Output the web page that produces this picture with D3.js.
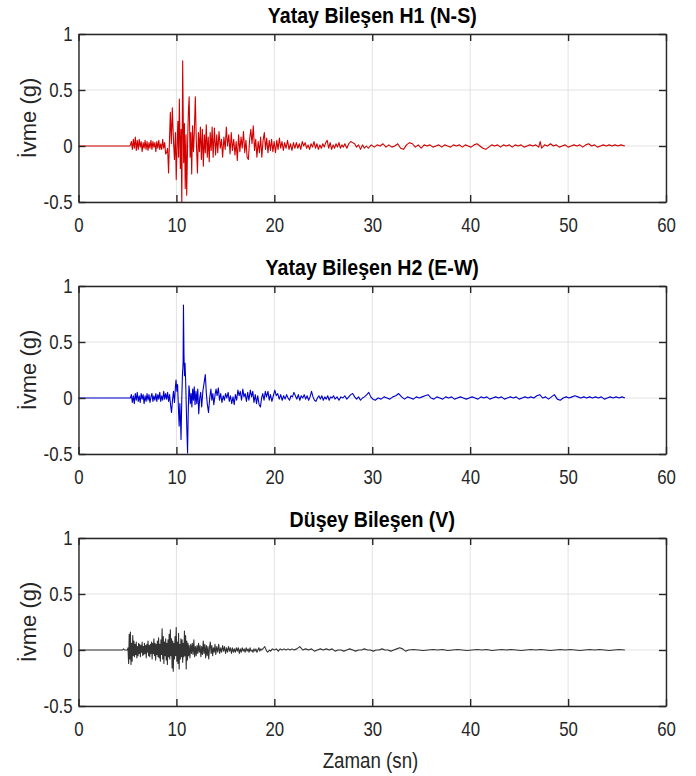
<!DOCTYPE html>
<html><head><meta charset="utf-8">
<script src="https://cdn.jsdelivr.net/npm/d3@7"></script>
<style>body{margin:0;background:#fff}</style>
</head><body><svg id="c" width="696" height="776"></svg>
<script>
const xTicks=[0,10,20,30,40,50,60];
const yTicks=[-0.5,0,0.5,1];
const titles=["Yatay Bileşen H1 (N-S)","Yatay Bileşen H2 (E-W)","Düşey Bileşen (V)"];
const yLabel="İvme (g)";
const xLabel="Zaman (sn)";
const colors=["#d20000","#0000cc","#333333"];

// [time (s), acceleration (g)]
const h1=[[0,0],[5.25,0],[5.3,0.01],[5.4,0.04],[5.5,-0.03],[5.6,0.06],[5.7,-0.02],[5.8,0.08],[5.9,-0.04],[6.0,0.05],[6.1,-0.03],[6.2,0.06],[6.3,-0.01],[6.4,0.04],[6.5,-0.05],[6.6,0.03],[6.7,-0.02],[6.8,0.05],[6.9,-0.03],[7.0,0.04],[7.1,-0.04],[7.2,0.03],[7.3,-0.02],[7.4,0.05],[7.5,-0.03],[7.6,0.04],[7.7,-0.01],[7.8,0.03],[7.9,-0.05],[8.0,0.04],[8.1,-0.02],[8.2,0.05],[8.3,-0.03],[8.4,0.02],[8.5,-0.03],[8.6,0.06],[8.7,-0.02],[8.8,0.03],[8.9,-0.07],
[9.0,-0.06],[9.1,-0.02],[9.2,-0.24],[9.3,0.08],[9.38,0.30],[9.48,0.02],[9.58,0.34],[9.7,0.05],[9.8,-0.12],[9.9,0.12],[9.98,-0.30],[10.08,0.05],[10.15,0.22],[10.22,-0.10],[10.3,0.42],[10.4,-0.20],[10.48,0.15],[10.55,-0.52],[10.64,0.76],[10.74,-0.15],[10.82,0.20],[10.9,-0.38],[10.98,0.10],[11.05,-0.44],[11.15,0.05],[11.22,0.30],[11.3,0.44],[11.4,-0.10],[11.48,0.12],[11.56,-0.25],[11.65,0.18],[11.74,-0.05],[11.82,0.10],[11.93,0.44],[12.03,0.05],[12.15,-0.24],[12.25,0.12],[12.35,-0.05],[12.45,0.17],[12.55,-0.12],[12.65,0.15],[12.75,-0.18],[12.85,0.10],[12.95,-0.06],[13.05,0.19],[13.15,-0.10],[13.25,0.08],[13.35,-0.14],[13.45,0.12],[13.55,-0.04],[13.65,0.17],
[13.75,-0.10],[13.88,0.16],[14.0,-0.08],[14.12,0.10],[14.22,-0.06],[14.35,0.13],[14.48,-0.02],[14.6,0.06],[14.72,-0.10],[14.85,0.08],[14.98,-0.03],[15.1,0.17],[15.22,0.0],[15.35,0.10],[15.48,-0.07],[15.6,0.12],[15.72,-0.04],[15.85,0.06],[15.98,-0.08],[16.1,0.04],[16.22,-0.13],[16.35,0.10],[16.48,-0.05],[16.6,0.08],[16.72,-0.02],[16.85,0.13],[16.98,-0.06],[17.1,0.05],[17.22,-0.10],[17.35,-0.12],[17.48,0.06],[17.6,0.15],[17.72,0.02],[17.85,0.18],[17.98,-0.04],[18.1,0.06],[18.22,-0.10],[18.35,0.04],[18.48,-0.06],[18.6,0.08],[18.72,-0.10],[18.85,0.05],[18.98,0.12],[19.1,-0.03],[19.22,0.07],[19.35,-0.06],[19.48,0.05],[19.6,-0.04],[19.72,0.06],[19.85,-0.05],[19.98,0.04],
[20.12,-0.06],[20.25,0.05],[20.38,-0.03],[20.52,0.07],[20.65,-0.02],[20.78,0.04],[20.92,-0.04],[21.05,0.03],[21.2,-0.02],[21.35,0.05],[21.5,-0.03],[21.65,0.02],[21.8,-0.04],[21.95,0.03],[22.1,-0.02],[22.25,0.03],[22.4,-0.02],[22.55,0.02],[22.7,-0.03],[22.85,0.04],[23.0,0.0],[23.15,0.03],[23.3,-0.02],[23.45,0.01],[23.6,-0.03],[23.75,0.02],[23.9,-0.01],[24.05,0.04],[24.2,-0.02],[24.35,0.02],[24.5,-0.03],[24.65,0.01],[24.8,-0.02],[24.95,0.02],[25.1,-0.01],[25.25,0.03],[25.4,0.05],[25.55,-0.02],[25.7,0.03],[25.85,-0.03],[26.0,0.01],[26.15,-0.02],[26.3,0.02],[26.45,-0.01],[26.6,0.03],[26.75,-0.02],[26.9,0.01],[27.05,-0.01],[27.2,0.02],[27.4,-0.02],[27.6,0.02],[27.8,0.04],[28.0,0.03],[28.2,0.02],[28.4,-0.01],[28.6,0.01],[28.8,-0.03],[29.0,0.01],[29.2,-0.02],[29.4,0.0],[29.6,-0.02],
[29.9,0.01],[30.2,-0.01],[30.5,0.01],[30.8,0.0],[31.1,0.02],[31.4,-0.01],[31.7,0.01],[32.0,-0.01],[32.3,0.0],[32.6,0.02],[32.9,-0.02],[33.2,-0.03],[33.5,0.01],[33.8,0.03],[34.1,0.02],[34.4,-0.01],[34.7,0.01],[35.0,-0.02],[35.3,0.01],[35.6,0.0],[35.9,0.01],[36.2,-0.01],[36.5,0.0],[36.8,0.01],[37.1,-0.01],[37.4,0.01],[37.7,0.0],[38.0,-0.01],[38.3,0.01],[38.6,0.0],[38.9,0.01],[39.2,-0.01],[39.5,0.01],[39.8,0.0],[40.1,-0.01],[40.4,0.01],[40.7,0.02],[41.0,0.0],[41.3,-0.02],[41.6,-0.03],[41.9,-0.01],[42.2,0.01],[42.5,0.0],[42.8,0.01],[43.1,-0.01],[43.4,0.01],[43.7,0.0],[44.0,0.01],[44.3,-0.01],[44.6,0.01],[44.9,0.0],[45.2,0.01],[45.5,-0.01],[45.8,0.0],[46.1,0.01],[46.4,0.0],[46.7,0.01],[47.0,-0.01],[47.15,0.04],[47.3,-0.02],[47.6,0.01],[47.9,0.0],[48.2,0.02],[48.5,0.0],[48.8,0.01],[49.1,-0.01],[49.4,0.0],[49.7,0.01],[50.0,-0.01],[50.3,0.0],[50.6,0.01],[50.9,0.0],[51.2,0.01],[51.5,-0.01],[51.8,0.01],[52.1,0.02],[52.4,0.0],[52.7,0.01],[53.0,-0.01],[53.3,0.0],[53.6,0.01],[53.9,0.0],[54.2,0.01],[54.5,0.0],[54.8,0.01],[55.1,0.0],[55.4,0.01],[55.8,0.0]];

const h2=[[0,0],[5.3,0],[5.4,0.03],[5.5,-0.04],[5.6,0.02],[5.7,-0.05],[5.8,0.04],[5.9,-0.02],[6.0,0.05],[6.1,-0.03],[6.2,0.02],[6.3,-0.04],[6.4,0.04],[6.5,-0.01],[6.6,0.03],[6.7,-0.05],[6.8,0.02],[6.9,-0.03],[7.0,0.04],[7.1,-0.02],[7.2,0.03],[7.3,-0.04],[7.4,0.01],[7.5,0.04],[7.6,-0.03],[7.7,0.02],[7.8,-0.02],[7.9,0.04],[8.0,-0.03],[8.1,0.03],[8.2,-0.01],[8.3,0.05],[8.4,-0.03],[8.5,0.02],[8.6,-0.02],[8.7,0.06],[8.8,-0.01],
[8.9,0.04],[9.0,-0.01],[9.1,0.05],[9.2,-0.03],[9.3,0.03],[9.4,-0.06],[9.5,-0.13],[9.6,-0.02],[9.7,0.06],[9.8,-0.04],[9.9,0.10],[9.96,0.16],[10.05,0.06],[10.12,0.12],[10.2,-0.08],[10.28,-0.25],[10.35,-0.05],[10.42,-0.20],[10.47,-0.37],[10.55,0.0],[10.62,0.22],[10.68,0.30],[10.72,0.83],[10.77,0.40],[10.82,0.20],[10.88,0.31],[10.94,0.16],[11.0,-0.05],[11.07,-0.30],[11.14,-0.49],[11.2,-0.15],[11.28,0.11],[11.35,0.05],[11.42,-0.05],[11.5,0.04],[11.58,-0.08],[11.66,0.08],[11.74,-0.02],[11.82,0.10],[11.9,-0.06],[12.0,0.06],[12.08,-0.05],[12.18,0.08],[12.28,-0.14],[12.38,0.0],[12.48,0.05],[12.58,-0.08],[12.7,0.06],[12.8,0.12],[12.95,0.21],[13.05,0.05],[13.15,-0.05],[13.28,-0.13],[13.4,0.0],[13.52,0.08],[13.62,-0.02],[13.72,0.04],[13.82,-0.06],[13.95,0.03],[14.05,0.08],[14.15,0.02],[14.28,0.09],[14.4,-0.02],[14.52,0.04],[14.65,-0.04],[14.78,0.02],[14.9,-0.02],[15.02,0.04],[15.15,0.0],[15.28,0.05],[15.4,-0.03],[15.52,0.02],[15.65,-0.05],[15.78,0.01],[15.9,-0.06],[16.02,0.03],[16.15,-0.02],[16.28,0.07],[16.4,0.02],[16.52,0.06],[16.65,-0.02],[16.78,0.08],[16.9,0.01],[17.02,0.04],[17.15,-0.03],[17.28,0.05],[17.4,-0.02],[17.55,0.07],[17.68,0.01],[17.8,0.06],[17.92,-0.04],[18.05,0.03],[18.18,-0.05],[18.3,0.02],[18.45,-0.06],[18.58,-0.08],[18.7,0.0],[18.82,0.04],[18.95,-0.02],[19.08,0.06],[19.2,0.01],[19.35,0.06],[19.48,-0.02],[19.6,0.03],[19.75,-0.03],[19.9,0.02],
[20.05,0.07],[20.2,0.02],[20.35,0.04],[20.5,-0.01],[20.65,0.03],[20.8,-0.02],[20.95,0.02],[21.1,-0.01],[21.25,0.03],[21.4,0.0],[21.55,-0.02],[21.7,0.02],[21.85,0.01],[22.0,0.05],[22.15,0.02],[22.3,-0.01],[22.45,0.03],[22.6,-0.02],[22.75,0.02],[22.9,0.0],[23.05,0.03],[23.2,-0.01],[23.35,0.02],[23.5,-0.02],[23.65,0.01],[23.8,0.06],[23.95,0.01],[24.1,-0.02],[24.25,-0.03],[24.4,0.0],[24.55,0.02],[24.7,-0.01],[24.85,0.02],[25.0,-0.02],[25.15,0.01],[25.3,-0.01],[25.45,0.02],[25.6,-0.02],[25.75,0.01],[25.9,0.0],[26.05,0.02],[26.2,-0.01],[26.4,0.01],[26.6,-0.02],[26.8,0.01],[27.0,0.0],[27.2,0.02],[27.4,-0.01],[27.6,0.01],[27.8,0.03],[28.0,0.04],[28.2,0.01],[28.4,-0.01],[28.6,0.01],[28.8,-0.02],[29.0,0.0],[29.2,0.01],[29.45,0.03],[29.65,0.05],[29.85,0.01],[30.05,-0.01],
[30.3,-0.02],[30.6,0.0],[30.9,-0.01],[31.2,0.01],[31.5,0.0],[31.8,-0.01],[32.1,0.01],[32.4,0.02],[32.7,0.04],[33.0,0.01],[33.3,-0.01],[33.6,0.01],[33.9,0.0],[34.2,-0.01],[34.5,0.01],[34.8,0.0],[35.1,0.01],[35.4,0.02],[35.7,0.03],[36.0,0.0],[36.3,-0.01],[36.6,0.01],[36.9,0.0],[37.2,-0.01],[37.5,0.01],[37.8,0.0],[38.1,0.01],[38.4,-0.01],[38.7,0.0],[39.0,0.01],[39.3,0.0],[39.6,-0.01],[39.9,0.0],[40.2,0.01],[40.5,0.0],[40.8,-0.01],[41.1,0.01],[41.4,0.0],[41.7,0.01],[42.0,-0.01],[42.3,0.0],[42.6,0.01],[42.9,0.0],[43.2,0.01],[43.5,-0.01],[43.8,0.0],[44.1,0.01],[44.4,0.0],[44.7,0.01],[45.0,-0.01],[45.3,0.0],[45.6,0.01],[45.9,0.0],[46.2,0.01],[46.5,0.0],[46.8,0.02],[47.1,0.03],[47.4,0.0],[47.7,0.01],[48.0,-0.01],[48.3,0.01],[48.6,0.03],[48.9,-0.01],[49.2,-0.02],[49.5,0.0],[49.8,0.01],[50.1,0.0],[50.4,0.01],[50.7,0.02],[51.0,0.01],[51.3,0.0],[51.6,0.01],[51.9,0.0],[52.2,0.01],[52.5,0.0],[52.8,0.01],[53.1,0.0],[53.4,0.01],[53.7,-0.01],[54.0,0.0],[54.3,0.01],[54.6,0.0],[54.9,0.01],[55.2,0.0],[55.5,0.01],[55.8,0.0]];

const v=[[0,0],[4.5,0],[4.6,0.01],[4.7,0],[5.0,0],[5.05,0.02],[5.12,-0.12],[5.18,0.14],[5.24,-0.08],[5.3,0.16],[5.36,-0.13],[5.42,0.06],[5.48,-0.10],[5.54,0.13],[5.6,-0.05],[5.66,0.08],[5.72,-0.06],[5.78,0.05],[5.84,-0.04],[5.9,0.07],[5.96,-0.07],[6.02,0.03],[6.08,-0.05],[6.14,0.06],[6.2,-0.03],[6.26,0.05],[6.32,-0.06],[6.38,0.04],[6.44,-0.02],[6.5,0.07],[6.56,-0.05],[6.62,0.03],[6.68,-0.04],[6.74,0.06],[6.8,-0.03],[6.86,0.04],[6.92,-0.07],[6.98,0.05],[7.04,-0.02],[7.1,0.08],[7.16,-0.05],[7.22,0.04],[7.28,-0.06],[7.34,0.05],[7.4,-0.03],[7.46,0.07],[7.52,-0.08],[7.58,0.06],[7.64,-0.03],[7.7,0.10],[7.76,-0.05],[7.82,0.06],[7.88,-0.09],[7.94,0.05],[8.0,-0.04],[8.06,0.08],[8.12,-0.06],[8.18,0.11],[8.24,-0.07],[8.3,0.05],[8.36,-0.10],[8.42,0.09],[8.48,-0.04],[8.54,0.19],[8.6,-0.08],[8.66,0.12],[8.72,-0.12],[8.78,0.07],[8.84,-0.05],[8.9,0.10],[8.96,-0.09],[9.02,0.06],[9.08,-0.13],[9.14,0.09],[9.2,-0.06],[9.26,0.14],[9.32,-0.08],[9.38,0.18],[9.44,-0.05],[9.5,0.10],[9.56,-0.16],[9.62,0.08],[9.68,-0.19],[9.74,0.06],[9.8,-0.08],[9.86,0.12],[9.92,-0.05],[9.98,0.20],[10.04,-0.10],[10.1,0.07],[10.16,-0.12],[10.22,0.15],[10.28,-0.17],[10.34,0.05],[10.4,-0.08],[10.46,0.10],[10.52,-0.06],[10.58,0.09],[10.64,-0.11],[10.7,0.06],[10.76,-0.06],[10.82,0.17],[10.88,-0.05],[10.94,0.13],[11.0,-0.17],[11.06,0.08],[11.12,-0.09],[11.18,0.06],[11.24,-0.05],[11.3,0.04],[11.38,-0.07],[11.46,0.05],[11.54,-0.03],[11.62,0.06],[11.7,-0.04],[11.78,0.09],[11.86,-0.06],[11.94,0.03],[12.02,-0.05],[12.1,0.04],[12.18,-0.03],[12.26,0.06],[12.34,-0.02],[12.42,0.04],[12.5,-0.06],[12.58,0.03],[12.66,-0.04],[12.74,0.08],[12.82,-0.03],[12.9,0.05],[12.98,-0.07],[13.06,0.04],[13.14,-0.05],[13.22,0.03],[13.3,-0.08],[13.38,0.02],[13.46,0.07],[13.54,-0.03],[13.62,0.04],[13.7,-0.05],[13.78,0.02],[13.86,-0.02],[13.94,0.05],[14.02,-0.04],[14.12,0.03],[14.22,-0.02],[14.32,0.05],[14.42,-0.03],[14.52,0.02],[14.62,-0.02],[14.72,0.04],[14.82,-0.01],[14.92,0.03],[15.02,-0.03],[15.12,0.02],[15.22,-0.02],[15.32,0.03],[15.42,-0.01],[15.52,0.02],[15.62,-0.03],[15.72,0.02],[15.82,-0.02],[15.92,0.01],[16.02,-0.02],[16.12,0.02],[16.22,-0.01],[16.32,0.02],[16.42,-0.03],[16.52,0.01],[16.62,-0.02],[16.72,0.02],[16.82,-0.01],[16.92,0.01],[17.02,-0.02],[17.12,0.02],[17.22,-0.01],[17.32,0.01],[17.42,-0.02],[17.52,0.02],[17.62,-0.01],[17.72,0.0],[17.82,-0.02],[17.92,0.01],[18.02,-0.01],[18.12,0.01],[18.22,-0.02],[18.32,0.0],[18.42,0.02],[18.52,-0.01],[18.62,0.01],[18.72,0.0],[18.82,0.01],[18.92,0.02],[19.02,0.03],[19.12,0.01],[19.22,-0.01],[19.32,-0.02],[19.42,-0.01],[19.52,0.0],[19.62,-0.01],[19.8,0.01],[20.0,0.0],[20.2,0.01],[20.4,-0.01],[20.6,0.01],[20.8,0.0],[21.0,0.01],[21.2,0.0],[21.4,0.01],[21.6,0.0],[21.8,0.01],[22.0,0.0],[22.3,0.01],[22.6,0.03],[22.9,0.0],[23.2,0.01],[23.5,0.0],[23.8,0.01],[24.1,-0.01],[24.4,0.0],[24.7,0.01],[25.0,0.0],[25.3,0.01],[25.6,0.0],[25.9,0.01],[26.2,-0.01],[26.5,0.0],[26.8,0.0],[27.1,-0.01],[27.4,0.0],[27.7,0.01],[28.0,0.0],[28.3,-0.01],[28.6,0.0],[28.9,0.0],[29.2,0.01],[29.5,0.0],[29.8,0.0],[30.1,-0.01],[30.4,0.0],[30.7,0.0],[31.0,0.01],[31.3,0.0],[31.6,0.0],[31.9,-0.01],[32.2,0.0],[32.5,0.01],[32.8,0.02],[33.1,0.01],[33.4,-0.01],[33.7,0.0],[34.2,0.005],[34.7,0.0],[35.2,-0.005],[35.7,0.0],[36.2,0.005],[36.7,0.0],[37.2,0.005],[37.7,-0.005],[38.2,0.0],[38.7,0.005],[39.2,0.0],[39.7,-0.005],[40.2,0.0],[40.7,0.005],[41.2,0.0],[41.7,0.005],[42.2,-0.005],[42.7,0.0],[43.2,0.005],[43.7,0.0],[44.2,0.005],[44.7,0.0],[45.2,-0.005],[45.7,0.0],[46.2,0.005],[46.7,0.0],[47.2,0.005],[47.7,0.0],[48.2,-0.005],[48.7,0.0],[49.2,0.005],[49.7,0.0],[50.2,0.005],[50.7,0.0],[51.2,-0.005],[51.7,0.0],[52.2,0.005],[52.7,0.0],[53.2,0.005],[53.7,0.0],[54.2,-0.005],[54.7,0.0],[55.2,0.005],[55.8,0.0]];

const series=[h1,h2,v];

const FONT="'Liberation Sans',Arial,sans-serif";
const svg=d3.select("#c");
const left=78.5,right=666,ph=168;
const tops=[34,286,538];
const x=d3.scaleLinear().domain([0,60]).range([left,right]);
const axisCol="#262626", gridCol="#e2e2e2", tick=7;
const fmtY=d=>String(d);   // plain hyphen-minus like the original

function squeeze(sel,k){
  sel.each(function(){
    const w=this.getComputedTextLength();
    d3.select(this).attr("textLength",w*k).attr("lengthAdjust","spacingAndGlyphs");
  });
}

series.forEach((data,i)=>{
  const top=tops[i];
  const y=d3.scaleLinear().domain([-0.5,1]).range([top+ph,top]);
  const g=svg.append("g");
  g.append("clipPath").attr("id","clip"+i).append("rect")
    .attr("x",left).attr("y",top).attr("width",right-left).attr("height",ph);
  g.append("g").selectAll("line").data(xTicks).join("line")
    .attr("x1",d=>x(d)).attr("x2",d=>x(d)).attr("y1",top).attr("y2",top+ph)
    .attr("stroke",gridCol).attr("stroke-width",1);
  g.append("g").selectAll("line").data(yTicks).join("line")
    .attr("x1",left).attr("x2",right).attr("y1",d=>y(d)).attr("y2",d=>y(d))
    .attr("stroke",gridCol).attr("stroke-width",1);
  g.append("path").datum(data)
    .attr("clip-path","url(#clip"+i+")")
    .attr("fill","none").attr("stroke",colors[i]).attr("stroke-width",1.1)
    .attr("stroke-linejoin","round")
    .attr("d",d3.line().x(d=>x(d[0])).y(d=>y(d[1])));
  const ab=g.append("g").attr("transform",`translate(0,${top+ph})`)
    .call(d3.axisBottom(x).tickValues(xTicks).tickSizeInner(-tick).tickSizeOuter(0).tickPadding(29.5).tickFormat(d3.format("d")));
  const at=g.append("g").attr("transform",`translate(0,${top})`)
    .call(d3.axisTop(x).tickValues(xTicks).tickSizeInner(-tick).tickSizeOuter(0).tickFormat(""));
  const al=g.append("g").attr("transform",`translate(${left},0)`)
    .call(d3.axisLeft(y).tickValues(yTicks).tickSizeInner(-tick).tickSizeOuter(0).tickPadding(6).tickFormat(fmtY));
  const ar=g.append("g").attr("transform",`translate(${right},0)`)
    .call(d3.axisRight(y).tickValues(yTicks).tickSizeInner(-tick).tickSizeOuter(0).tickFormat(""));
  [ab,at,al,ar].forEach(a=>{
    a.select(".domain").attr("stroke",axisCol).attr("stroke-width",1.4);
    a.selectAll(".tick line").attr("stroke",axisCol).attr("stroke-width",1.4);
    a.selectAll("text").attr("fill",axisCol).attr("font-family",FONT).attr("font-size",21);
  });
  ab.selectAll("text").attr("dy",0);
  squeeze(ab.selectAll("text"),0.8);
  squeeze(al.selectAll("text"),0.8);
  const t=svg.append("text").attr("x",(left+right)/2).attr("y",top-11)
    .attr("text-anchor","middle").attr("font-family",FONT).attr("font-weight","bold")
    .attr("font-size",22).attr("fill","#000").text(titles[i]);
  squeeze(t,0.89);
  svg.append("text").attr("transform",`translate(36,${top+ph/2}) rotate(-90)`)
    .attr("text-anchor","middle").attr("font-family",FONT).attr("font-size",22)
    .attr("fill",axisCol).text(yLabel);
});
const xl=svg.append("text").attr("x",370.5).attr("y",768).attr("text-anchor","middle")
  .attr("font-family",FONT).attr("font-size",22).attr("fill",axisCol).text(xLabel);
squeeze(xl,0.85);
</script></body></html>
